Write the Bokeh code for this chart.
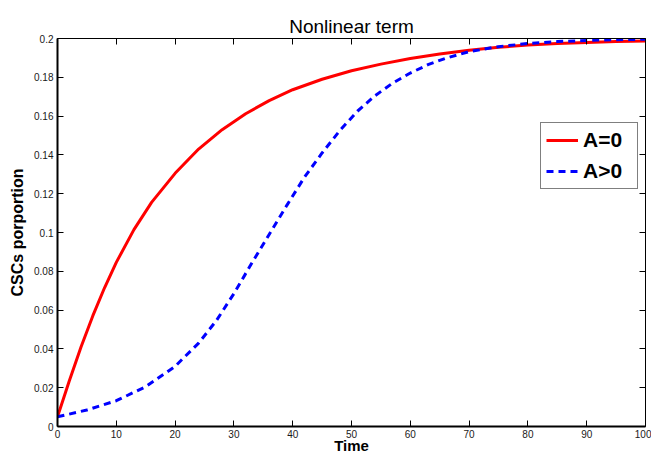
from bokeh.plotting import figure
from bokeh.models import LinearAxis, FixedTicker, Range1d
from bokeh.embed import file_html
from bokeh.resources import INLINE

# --- data ---
time_a0 = [0, 2, 4, 6, 8, 10, 13, 16, 20, 24, 28, 32, 36, 40, 45, 50, 55, 60, 65, 70,
           75, 80, 85, 90, 95, 100]
a_zero = [0.005, 0.0235, 0.041, 0.057, 0.0715, 0.0846, 0.1015, 0.1155, 0.1305, 0.1430,
          0.1530, 0.1612, 0.1680, 0.1736, 0.1790, 0.1834, 0.1868, 0.1897, 0.1920, 0.1940,
          0.1955, 0.1966, 0.1974, 0.1980, 0.1984, 0.1987]
time_ap = [0, 5, 10, 15, 20, 24, 27, 30, 33, 36, 39, 42, 45, 48, 51, 54, 57, 60, 63, 66,
           70, 75, 80, 85, 90, 95, 100]
a_pos = [0.005, 0.0085, 0.0133, 0.0205, 0.0310, 0.0430, 0.0545, 0.0685, 0.0840, 0.0990,
         0.1140, 0.1285, 0.1410, 0.1525, 0.1625, 0.1705, 0.1770, 0.1822, 0.1865, 0.1898,
         0.1932, 0.1958, 0.1974, 0.1984, 0.1990, 0.1994, 0.1996]
x_ticks = [0, 10, 20, 30, 40, 50, 60, 70, 80, 90, 100]
y_ticks = [0, 0.02, 0.04, 0.06, 0.08, 0.1, 0.12, 0.14, 0.16, 0.18, 0.2]
y_tick_labels = ["0", "0.02", "0.04", "0.06", "0.08", "0.1", "0.12", "0.14", "0.16", "0.18", "0.2"]

FONT = "Liberation Sans"

p = figure(width=651, height=456, output_backend="svg", toolbar_location=None,
           x_range=Range1d(0, 100), y_range=Range1d(0, 0.2),
           title="Nonlinear term", x_axis_label="Time", y_axis_label="CSCs porportion",
           min_border_left=57, min_border_right=6, min_border_top=38, min_border_bottom=28)

p.title.text_font = FONT
p.title.text_font_size = "19px"
p.title.text_font_style = "normal"
p.title.text_color = "black"
p.title.align = "center"
p.title.standoff = 4

p.xgrid.visible = False
p.ygrid.visible = False
p.outline_line_color = None
p.background_fill_color = "white"
p.border_fill_color = "white"

def style_axis(ax, ticks, labels=True, width=1.0):
    ax.ticker = FixedTicker(ticks=ticks)
    ax.major_tick_in = 6
    ax.major_tick_out = 0
    ax.minor_tick_line_color = None
    ax.axis_line_width = width
    ax.axis_line_color = "black"
    ax.major_tick_line_color = "black"
    ax.major_tick_line_width = 1
    ax.major_label_text_font = FONT
    ax.major_label_text_font_size = "10px"
    ax.major_label_text_color = "#1a1a1a" if labels else None
    ax.major_label_standoff = 3
    ax.axis_label_text_font = FONT
    ax.axis_label_text_font_size = "15px"
    ax.axis_label_text_font_style = "bold"
    ax.axis_label_text_color = "black"

style_axis(p.xaxis[0], x_ticks, width=2)
style_axis(p.yaxis[0], y_ticks, width=2)
p.xaxis[0].axis_label_standoff = -4
p.yaxis[0].axis_label_standoff = 5
p.yaxis[0].axis_label_text_font_size = "16px"
p.yaxis[0].major_label_standoff = 4
p.yaxis[0].major_label_overrides = {t: l for t, l in zip(y_ticks, y_tick_labels)}

top = LinearAxis()
style_axis(top, x_ticks, labels=False, width=1)
top.major_label_text_font_size = "0px"
top.major_label_standoff = 0
p.add_layout(top, "above")
right = LinearAxis()
style_axis(right, y_ticks, labels=False, width=1)
right.major_label_text_font_size = "0px"
right.major_label_standoff = 0
p.add_layout(right, "right")

p.line(time_a0, a_zero, line_color="red", line_width=3, legend_label="A=0")
p.line(time_ap, a_pos, line_color="blue", line_width=3, line_dash="7 5", legend_label="A>0")

lg = p.legend[0]
lg.location = (483, 237)
lg.border_line_color = "black"
lg.border_line_width = 1
lg.background_fill_color = "white"
lg.background_fill_alpha = 1
lg.label_text_font = FONT
lg.label_text_font_size = "21px"
lg.label_text_font_style = "bold"
lg.label_text_color = "black"
lg.glyph_width = 32
lg.glyph_height = 24
lg.label_height = 24
lg.label_width = 49
lg.label_standoff = 5
lg.padding = 5
lg.spacing = 7
lg.margin = 0

open("out.html", "w").write(file_html(p, INLINE))
